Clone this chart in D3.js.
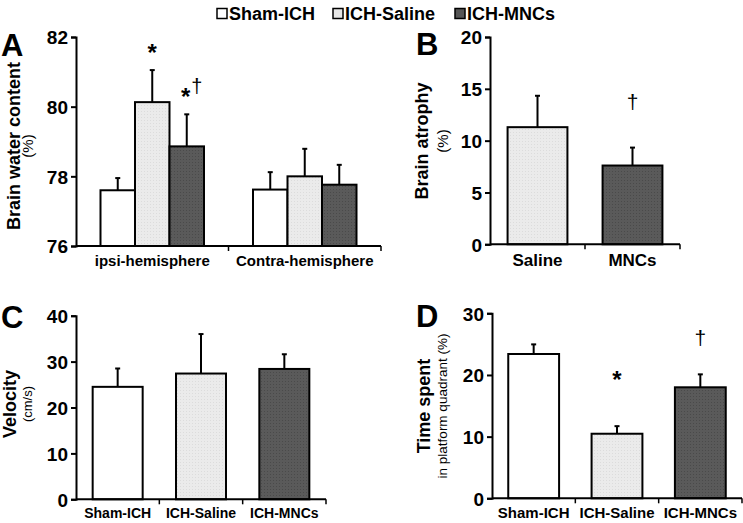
<!DOCTYPE html>
<html><head><meta charset="utf-8">
<script src="https://cdn.jsdelivr.net/npm/d3@7"></script>
<style>body{margin:0;background:#fff}svg{display:block;font-family:"Liberation Sans",Arial,sans-serif;font-weight:bold}</style>
</head><body><svg id="c" width="743" height="523"></svg>
<script>
const groups = ["Sham-ICH","ICH-Saline","ICH-MNCs"];
// Panel A
const aRegions = ["ipsi-hemisphere","Contra-hemisphere"];
const aMeans = [[77.6,80.13,78.86],[77.62,78.0,77.76]];
const aErr = [[0.35,0.92,0.92],[0.5,0.79,0.57]];
const aTicks = [76,78,80,82];
// Panel B
const bCats = ["Saline","MNCs"];
const bMeans = [11.3,7.6];
const bErr = [3.03,1.73];
const bTicks = [0,5,10,15,20];
// Panel C
const cMeans = [24.5,27.4,28.4];
const cErr = [4.0,8.6,3.2];
const cTicks = [0,10,20,30,40];
// Panel D
const dMeans = [23.4,10.47,18.0];
const dErr = [1.56,1.23,2.1];
const dTicks = [0,10,20,30];

const fills = {"Sham-ICH":"#ffffff","ICH-Saline":"url(#pSal)","ICH-MNCs":"url(#pMnc)","Saline":"url(#pSal)","MNCs":"url(#pMnc)"};

const svg = d3.select("#c");
const defs = svg.append("defs");
const p1 = defs.append("pattern").attr("id","pSal").attr("width",3).attr("height",3).attr("patternUnits","userSpaceOnUse");
p1.append("rect").attr("width",3).attr("height",3).attr("fill","#ebebeb");
p1.append("rect").attr("width",1).attr("height",1).attr("fill","#dcdcdc");
const p2 = defs.append("pattern").attr("id","pMnc").attr("width",3).attr("height",3).attr("patternUnits","userSpaceOnUse");
p2.append("rect").attr("width",3).attr("height",3).attr("fill","#5a5a5a");
p2.append("rect").attr("width",1).attr("height",1).attr("fill","#4a4a4a");

function yAxis(g, y, ticks, x0){
  const ax = g.append("g").attr("transform",`translate(${x0},0)`)
    .call(d3.axisLeft(y).tickValues(ticks).tickSize(5).tickPadding(3).tickFormat(d3.format("d")));
  ax.select(".domain").attr("stroke","#000").attr("stroke-width",2);
  ax.selectAll(".tick line").attr("stroke","#000").attr("stroke-width",2);
  ax.selectAll("text").attr("font-size",19).attr("font-weight","bold").attr("fill","#000").attr("dy","0.36em");
}
function xBase(g, x, y0, cats, fs){
  const [r0,r1] = x.range();
  g.append("line").attr("x1",r0).attr("x2",r1).attr("y1",y0).attr("y2",y0).attr("stroke","#000").attr("stroke-width",2);
  const bounds = cats.map(c=>x(c)+x.step());
  g.selectAll(".xt").data(bounds).join("line").attr("x1",d=>d).attr("x2",d=>d).attr("y1",y0).attr("y2",y0+5).attr("stroke","#000").attr("stroke-width",1.5);
  g.selectAll(".xl").data(cats).join("text").attr("x",c=>x(c)+x.step()/2).attr("y",y0+fs+5)
    .attr("text-anchor","middle").attr("font-size",fs).text(c=>c);
}
function bar(g, cx, w, y, v, e, fill){
  const top = y(v), base = y.range()[0];
  g.append("line").attr("x1",cx).attr("x2",cx).attr("y1",top).attr("y2",y(v+e)).attr("stroke","#000").attr("stroke-width",2);
  g.append("line").attr("x1",cx-2.5).attr("x2",cx+2.5).attr("y1",y(v+e)).attr("y2",y(v+e)).attr("stroke","#000").attr("stroke-width",2);
  g.append("rect").attr("x",cx-w/2).attr("y",top).attr("width",w).attr("height",base-top).attr("fill",fill).attr("stroke","#000").attr("stroke-width",2);
}
function ylab(g, x, y, main, sub, xs, fsMain, fsSub){
  g.append("text").attr("transform",`translate(${x},${y}) rotate(-90)`).attr("text-anchor","middle").attr("font-size",fsMain).text(main);
  g.append("text").attr("transform",`translate(${xs},${y}) rotate(-90)`).attr("text-anchor","middle").attr("font-size",fsSub).attr("font-weight","normal").text(sub);
}
function letter(x,y,t){ svg.append("text").attr("x",x).attr("y",y).attr("font-size",31).text(t); }

// Legend
const legX = {"Sham-ICH":217,"ICH-Saline":333,"ICH-MNCs":455};
groups.forEach(gname=>{
  svg.append("rect").attr("x",legX[gname]).attr("y",8.5).attr("width",10).attr("height",10).attr("fill",gname==="Sham-ICH"?"#fff":gname==="ICH-Saline"?"#e6e6e6":"#555").attr("stroke","#000").attr("stroke-width",1.5);
  svg.append("text").attr("x",legX[gname]+12).attr("y",20).attr("font-size",18).text(gname);
});

// Panel A
{
  const g = svg.append("g");
  const y = d3.scaleLinear().domain([76,82]).range([246,37]);
  const x0 = d3.scaleBand().domain(aRegions).range([76,381]);
  const x1 = d3.scaleBand().domain(groups).range([0,x0.bandwidth()]).paddingOuter(0.71);
  aRegions.forEach((r,i)=>groups.forEach((gr,j)=>{
    bar(g, x0(r)+x1(gr)+x1.bandwidth()/2, x1.bandwidth(), y, aMeans[i][j], aErr[i][j], fills[gr]);
  }));
  yAxis(g,y,aTicks,76);
  xBase(g,x0,246,aRegions,15);
  const cs = x0(aRegions[0])+x1("ICH-Saline")+x1.bandwidth()/2;
  const cm = x0(aRegions[0])+x1("ICH-MNCs")+x1.bandwidth()/2;
  g.append("text").attr("x",cs).attr("y",y(aMeans[0][1]+aErr[0][1])-9).attr("text-anchor","middle").attr("font-size",24).text("*");
  g.append("text").attr("x",cm-1).attr("y",y(aMeans[0][2]+aErr[0][2])-9).attr("text-anchor","middle").attr("font-size",24).text("*");
  g.append("text").attr("x",cm+10).attr("y",y(aMeans[0][2]+aErr[0][2])-21).attr("text-anchor","middle").attr("font-size",20).attr("font-weight","normal").text("†");
  ylab(g,20,146,"Brain water content","(%)",33,18,15);
  letter(1,56,"A");
}
// Panel B
{
  const g = svg.append("g");
  const y = d3.scaleLinear().domain([0,20]).range([244.3,37]);
  const x = d3.scaleBand().domain(bCats).range([490,680]).paddingInner(0.37).paddingOuter(0.185);
  const xs = d3.scaleBand().domain(bCats).range([490,680]);
  bCats.forEach((c,i)=>bar(g, x(c)+x.bandwidth()/2, x.bandwidth(), y, bMeans[i], bErr[i], fills[c]));
  yAxis(g,y,bTicks,490);
  xBase(g,xs,244.3,bCats,17);
  g.append("text").attr("x",x("MNCs")+x.bandwidth()/2).attr("y",y(bMeans[1]+bErr[1])-39).attr("text-anchor","middle").attr("font-size",21).attr("font-weight","normal").text("†");
  ylab(g,428,141,"Brain atrophy","(%)",448,18,15);
  letter(416,55,"B");
}
// Panel C
{
  const g = svg.append("g");
  const y = d3.scaleLinear().domain([0,40]).range([499.3,315.7]);
  const x = d3.scaleBand().domain(groups).range([76,326]).paddingInner(0.4).paddingOuter(0.2);
  const xs = d3.scaleBand().domain(groups).range([76,326]);
  groups.forEach((c,i)=>bar(g, x(c)+x.bandwidth()/2, x.bandwidth(), y, cMeans[i], cErr[i], fills[c]));
  yAxis(g,y,cTicks,76);
  xBase(g,xs,499.3,groups,14);
  ylab(g,16,404,"Velocity","(cm/s)",32,18,13);
  letter(1,328,"C");
}
// Panel D
{
  const g = svg.append("g");
  const y = d3.scaleLinear().domain([0,30]).range([498.3,313.3]);
  const x = d3.scaleBand().domain(groups).range([492,742]).paddingInner(0.39).paddingOuter(0.195);
  const xs = d3.scaleBand().domain(groups).range([492,742]);
  groups.forEach((c,i)=>bar(g, x(c)+x.bandwidth()/2, x.bandwidth(), y, dMeans[i], dErr[i], fills[c]));
  yAxis(g,y,dTicks,492);
  xBase(g,xs,498.3,groups,15);
  g.append("text").attr("x",x("ICH-Saline")+x.bandwidth()/2).attr("y",y(dMeans[1]+dErr[1])-38).attr("text-anchor","middle").attr("font-size",24).text("*");
  g.append("text").attr("x",x("ICH-MNCs")+x.bandwidth()/2).attr("y",y(dMeans[2]+dErr[2])-29).attr("text-anchor","middle").attr("font-size",21).attr("font-weight","normal").text("†");
  ylab(g,430,406,"Time spent","in platform quadrant (%)",447,18,13.5);
  letter(416,327,"D");
}
</script></body></html>
